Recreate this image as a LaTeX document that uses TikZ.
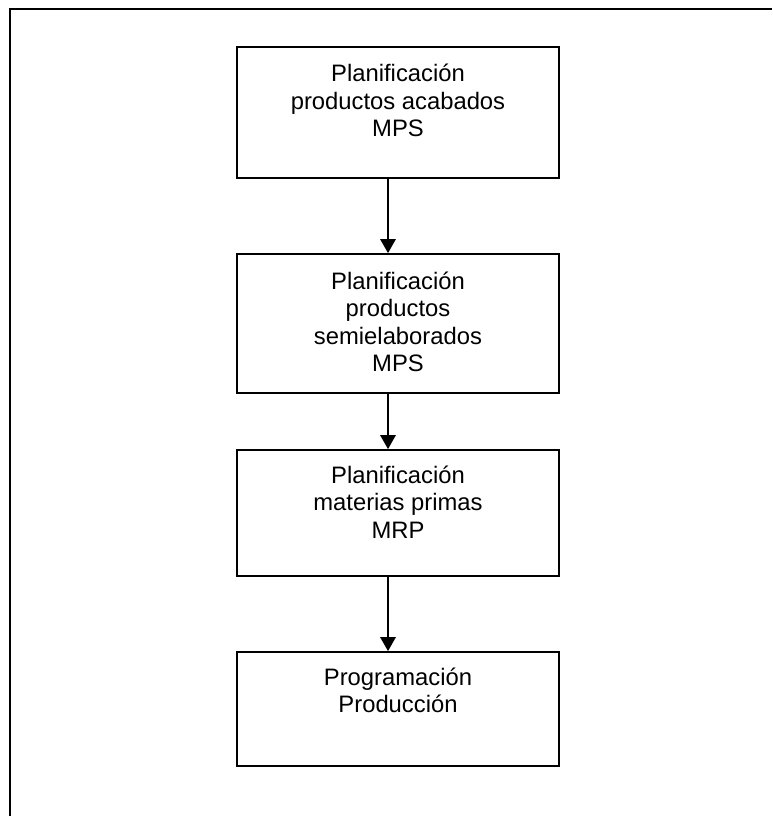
\documentclass[tikz,border=0pt]{standalone}
\usepackage{fontspec}
\setmainfont{Liberation Sans}
\usetikzlibrary{arrows.meta}
\begin{document}
\begin{tikzpicture}[x=1pt,y=-1pt,
  stagebox/.style={draw=black, line width=1.8pt, minimum width=322pt, inner sep=0pt},
  stagetext/.style={anchor=north, align=center, inner sep=0pt,
    font=\fontsize{23.8}{27.3}\selectfont},
  flow/.style={line width=1.6pt, -{Triangle[width=15.5pt,length=14pt]}}]
  \useasboundingbox (0,0) rectangle (772,816);
  % frame along top and left
  \draw[line width=2pt] (9.5,816) -- (9.5,9.5) -- (772,9.5);
  % stages
  \node[stagebox, minimum height=131pt] (b1) at (398,112.5) {};
  \node[stagebox, minimum height=139pt] (b2) at (398,323.5) {};
  \node[stagebox, minimum height=126pt] (b3) at (398,513) {};
  \node[stagebox, minimum height=114pt] (b4) at (398,709) {};
  \node[stagetext] (t1) at (398,64.2) {Planificación\\productos acabados\\MPS};
  \node[stagetext] (t2) at (398,271.8) {Planificación\\productos\\semielaborados\\MPS};
  \node[stagetext] (t3) at (398,465.8) {Planificación\\materias primas\\MRP};
  \node[stagetext] (t4) at (398,667.5) {Programación\\Producción};
  % connectors
  \coordinate (ax) at (388,0);
  \draw[flow] (b1.south -| ax) -- (b2.north -| ax);
  \draw[flow] (b2.south -| ax) -- (b3.north -| ax);
  \draw[flow] (b3.south -| ax) -- (b4.north -| ax);
\end{tikzpicture}
\end{document}
